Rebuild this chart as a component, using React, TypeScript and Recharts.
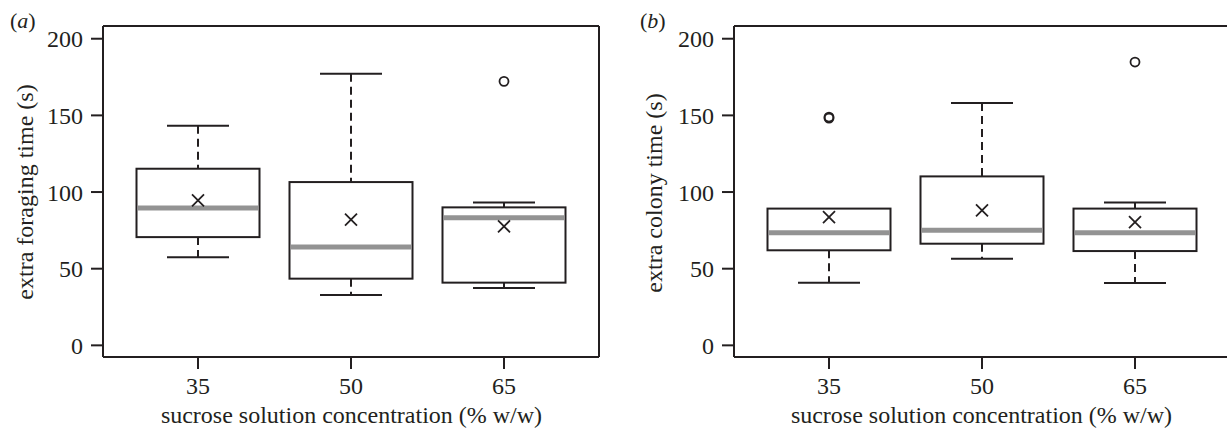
import React from "react";
import { ComposedChart, Bar, Scatter, XAxis, YAxis, CartesianGrid } from "recharts";

// sucrose concentration groups (% w/w)
const groups = ["35", "50", "65"];
const yTicks = [0, 50, 100, 150, 200];

// panel (a): extra foraging time (s)
const foragingMin = [57.4, 32.8, 37.4];
const foragingQ1 = [70.6, 43.5, 40.9];
const foragingMedian = [89.6, 64.1, 83.3];
const foragingQ3 = [115.2, 106.5, 90.0];
const foragingMax = [143.3, 177.2, 93.1];
const foragingMean = [94.6, 82.0, 77.6];
const foragingOutA = [null, null, 172.2];
const foragingOutB = [null, null, null];

// panel (b): extra colony time (s)
const colonyMin = [40.9, 56.5, 40.6];
const colonyQ1 = [62.0, 66.3, 61.5];
const colonyMedian = [73.5, 75.0, 73.5];
const colonyQ3 = [89.2, 110.2, 89.2];
const colonyMax = [89.2, 158.0, 93.1];
const colonyMean = [83.7, 88.0, 80.4];
const colonyOutA = [148.2, null, 184.8];
const colonyOutB = [148.9, null, null];

const INK = "#231f20";
const GREY = "#939393";
const FONT = '"Liberation Serif", "Times New Roman", serif';
const CAP = 31;

type Num = number | null;

function buildRows(
  min: number[], q1: number[], med: number[], q3: number[],
  max: number[], mean: number[], outA: Num[], outB: Num[]
) {
  return groups.map((g, i) => ({
    cat: g,
    base: min[i],
    lower: q1[i] - min[i],
    box: q3[i] - q1[i],
    upper: max[i] - q3[i],
    median: med[i],
    mean: mean[i],
    outA: outA[i],
    outB: outB[i],
  }));
}

const foragingRows = buildRows(foragingMin, foragingQ1, foragingMedian, foragingQ3, foragingMax, foragingMean, foragingOutA, foragingOutB);
const colonyRows = buildRows(colonyMin, colonyQ1, colonyMedian, colonyQ3, colonyMax, colonyMean, colonyOutA, colonyOutB);

const Blank = () => <g />;

const LowerWhisker = (p: any) => {
  const cx = p.x + p.width / 2;
  const bot = p.y + p.height;
  if (!(p.height > 0.5)) return <g />;
  return (
    <g>
      <line x1={cx} x2={cx} y1={p.y} y2={bot} stroke={INK} strokeWidth={2} strokeDasharray="8 5" />
      <line x1={cx - CAP} x2={cx + CAP} y1={bot} y2={bot} stroke={INK} strokeWidth={2} />
    </g>
  );
};

const UpperWhisker = (p: any) => {
  const cx = p.x + p.width / 2;
  if (!(p.height > 0.5)) return <g />;
  return (
    <g>
      <line x1={cx} x2={cx} y1={p.y} y2={p.y + p.height} stroke={INK} strokeWidth={2} strokeDasharray="8 5" />
      <line x1={cx - CAP} x2={cx + CAP} y1={p.y} y2={p.y} stroke={INK} strokeWidth={2} />
    </g>
  );
};

const BoxShape = (p: any) => (
  <rect x={p.x} y={p.y} width={p.width} height={p.height} fill="#fff" stroke={INK} strokeWidth={2} />
);

const MedianShape = (p: any) => (
  <line x1={p.cx - 60} x2={p.cx + 60} y1={p.cy} y2={p.cy} stroke={GREY} strokeWidth={5} />
);

const MeanShape = (p: any) => (
  <g stroke={INK} strokeWidth={1.8}>
    <line x1={p.cx - 6} x2={p.cx + 6} y1={p.cy - 6} y2={p.cy + 6} />
    <line x1={p.cx - 6} x2={p.cx + 6} y1={p.cy + 6} y2={p.cy - 6} />
  </g>
);

const outlierShape = (key: string) => (p: any) => {
  if (p.payload == null || p.payload[key] == null) return <g />;
  return <circle cx={p.cx} cy={p.cy} r={4.5} fill="none" stroke={INK} strokeWidth={1.8} />;
};

const frame = { stroke: INK, strokeWidth: 2 };
const tickStyle = { fontSize: 24, fontFamily: FONT, fill: INK };

function Panel({ rows, width, left }: { rows: any[]; width: number; left: number }) {
  return (
    <ComposedChart
      width={width}
      height={430}
      data={rows}
      margin={{ top: 26, right: 11, bottom: 43, left }}
    >
      {/* top and right sides of the plot frame */}
      <CartesianGrid
        stroke={INK}
        strokeWidth={2}
        horizontalCoordinatesGenerator={({ offset }: any) => [offset.top]}
        verticalCoordinatesGenerator={({ offset }: any) => [offset.left + offset.width]}
      />
      <XAxis
        dataKey="cat"
        padding={{ left: 18.5, right: 18.5 }}
        height={30}
        tick={tickStyle}
        tickSize={12}
        tickMargin={8}
        tickLine={frame}
        axisLine={frame}
      />
      <YAxis
        domain={[-7.6, 208.3]}
        allowDataOverflow
        ticks={yTicks}
        width={60}
        tick={tickStyle}
        tickSize={12}
        tickMargin={8}
        tickLine={frame}
        axisLine={frame}
      />
      <Bar dataKey="base" stackId="b" barSize={123} shape={Blank} isAnimationActive={false} />
      <Bar dataKey="lower" stackId="b" barSize={123} shape={LowerWhisker} isAnimationActive={false} />
      <Bar dataKey="box" stackId="b" barSize={123} shape={BoxShape} isAnimationActive={false} />
      <Bar dataKey="upper" stackId="b" barSize={123} shape={UpperWhisker} isAnimationActive={false} />
      <Scatter dataKey="median" shape={MedianShape} isAnimationActive={false} />
      <Scatter dataKey="mean" shape={MeanShape} isAnimationActive={false} />
      <Scatter dataKey="outA" shape={outlierShape("outA")} isAnimationActive={false} />
      <Scatter dataKey="outB" shape={outlierShape("outB")} isAnimationActive={false} />
    </ComposedChart>
  );
}

export default function App() {
  return (
    <div style={{ position: "absolute", left: 0, top: 0, width: 1227, height: 430, overflow: "hidden", background: "#fff" }}>
      <div style={{ position: "absolute", left: 0, top: 0 }}>
        <Panel rows={foragingRows} width={610} left={43} />
      </div>
      <div style={{ position: "absolute", left: 613, top: 0 }}>
        <Panel rows={colonyRows} width={628} left={61} />
      </div>
      <svg width={1227} height={430} style={{ position: "absolute", left: 0, top: 0, pointerEvents: "none" }}>
        <g fontFamily={FONT} fill={INK}>
          <text x={10} y={28} fontSize={22}>(<tspan fontStyle="italic">a</tspan>)</text>
          <text x={640} y={28} fontSize={22}>(<tspan fontStyle="italic">b</tspan>)</text>
          <text transform="translate(33,192) rotate(-90)" textAnchor="middle" fontSize={24}>extra foraging time (s)</text>
          <text transform="translate(661.5,193) rotate(-90)" textAnchor="middle" fontSize={24}>extra colony time (s)</text>
          <text x={351.5} y={423} textAnchor="middle" fontSize={24}>sucrose solution concentration (% w/w)</text>
          <text x={981.5} y={423} textAnchor="middle" fontSize={24}>sucrose solution concentration (% w/w)</text>
        </g>
      </svg>
    </div>
  );
}
